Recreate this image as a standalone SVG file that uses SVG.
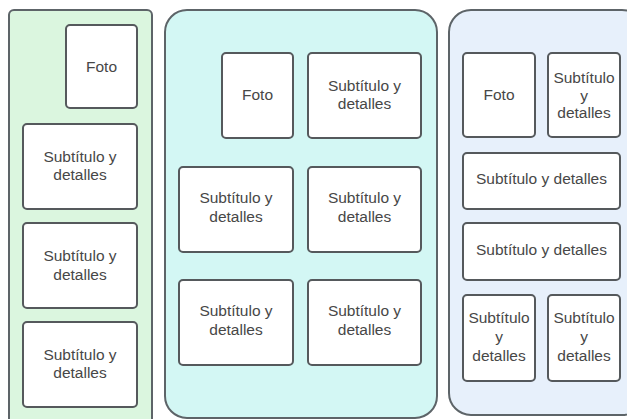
<svg xmlns="http://www.w3.org/2000/svg" width="627" height="419" viewBox="0 0 627 419">
  <style>
    .panel { stroke: #5d6468; stroke-width: 2; }
    .green { fill: #dbf6df; }
    .cyan { fill: #d3f7f4; }
    .blue { fill: #e7f0fb; }
    .box { fill: #ffffff; stroke: #55595c; stroke-width: 2; }
    .lbl { font-family: "Liberation Sans", Arial, sans-serif; font-size: 15.5px; fill: #474747; text-anchor: middle; }
  </style>
  <rect width="627" height="419" fill="#ffffff"/>

  <!-- layout panels -->
  <g id="panel-left">
    <rect class="panel green" x="9" y="10" width="143" height="420" rx="5"/>
  </g>
  <g id="panel-middle">
    <rect class="panel cyan" x="165" y="10" width="272" height="408" rx="22"/>
  </g>
  <g id="panel-right">
    <rect class="panel blue" x="449" y="10" width="195" height="405" rx="22"/>
  </g>

  <!-- left column -->
  <g id="l-foto">
    <rect class="box" x="66" y="25" width="71" height="83" rx="4"/>
    <text class="lbl" x="101.5" y="72">Foto</text>
  </g>
  <g id="l-sub1">
    <rect class="box" x="23" y="124" width="114" height="85" rx="4"/>
    <text class="lbl" x="80" y="162">Subtítulo y</text>
    <text class="lbl" x="80" y="180">detalles</text>
  </g>
  <g id="l-sub2">
    <rect class="box" x="23" y="223" width="114" height="85" rx="4"/>
    <text class="lbl" x="80" y="261">Subtítulo y</text>
    <text class="lbl" x="80" y="280">detalles</text>
  </g>
  <g id="l-sub3">
    <rect class="box" x="23" y="322" width="114" height="85" rx="4"/>
    <text class="lbl" x="80" y="360">Subtítulo y</text>
    <text class="lbl" x="80" y="378">detalles</text>
  </g>

  <!-- middle grid -->
  <g id="m-foto">
    <rect class="box" x="222" y="53" width="71" height="85" rx="4"/>
    <text class="lbl" x="257.5" y="100">Foto</text>
  </g>
  <g id="m-sub1">
    <rect class="box" x="308" y="53" width="113" height="85" rx="4"/>
    <text class="lbl" x="364.5" y="91">Subtítulo y</text>
    <text class="lbl" x="364.5" y="109">detalles</text>
  </g>
  <g id="m-sub2">
    <rect class="box" x="179" y="167" width="114" height="85" rx="4"/>
    <text class="lbl" x="236" y="203">Subtítulo y</text>
    <text class="lbl" x="236" y="222">detalles</text>
  </g>
  <g id="m-sub3">
    <rect class="box" x="308" y="167" width="113" height="85" rx="4"/>
    <text class="lbl" x="364.5" y="203">Subtítulo y</text>
    <text class="lbl" x="364.5" y="222">detalles</text>
  </g>
  <g id="m-sub4">
    <rect class="box" x="179" y="280" width="114" height="85" rx="4"/>
    <text class="lbl" x="236" y="316">Subtítulo y</text>
    <text class="lbl" x="236" y="335">detalles</text>
  </g>
  <g id="m-sub5">
    <rect class="box" x="308" y="280" width="113" height="85" rx="4"/>
    <text class="lbl" x="364.5" y="316">Subtítulo y</text>
    <text class="lbl" x="364.5" y="335">detalles</text>
  </g>

  <!-- right column -->
  <g id="r-foto">
    <rect class="box" x="463" y="53" width="72" height="84" rx="4"/>
    <text class="lbl" x="499" y="100">Foto</text>
  </g>
  <g id="r-sub1">
    <rect class="box" x="548" y="53" width="72" height="84" rx="4"/>
    <text class="lbl" x="584" y="83">Subtítulo</text>
    <text class="lbl" x="584" y="100.5">y</text>
    <text class="lbl" x="584" y="118">detalles</text>
  </g>
  <g id="r-sub2">
    <rect class="box" x="463" y="153" width="157" height="56" rx="4"/>
    <text class="lbl" x="541.5" y="184">Subtítulo y detalles</text>
  </g>
  <g id="r-sub3">
    <rect class="box" x="463" y="223" width="157" height="57" rx="4"/>
    <text class="lbl" x="541.5" y="254.5">Subtítulo y detalles</text>
  </g>
  <g id="r-sub4">
    <rect class="box" x="463" y="295" width="72" height="86" rx="4"/>
    <text class="lbl" x="499" y="323">Subtítulo</text>
    <text class="lbl" x="499" y="342">y</text>
    <text class="lbl" x="499" y="361">detalles</text>
  </g>
  <g id="r-sub5">
    <rect class="box" x="548" y="295" width="72" height="86" rx="4"/>
    <text class="lbl" x="584" y="323">Subtítulo</text>
    <text class="lbl" x="584" y="342">y</text>
    <text class="lbl" x="584" y="361">detalles</text>
  </g>

  <g id="connectors"/>
</svg>
